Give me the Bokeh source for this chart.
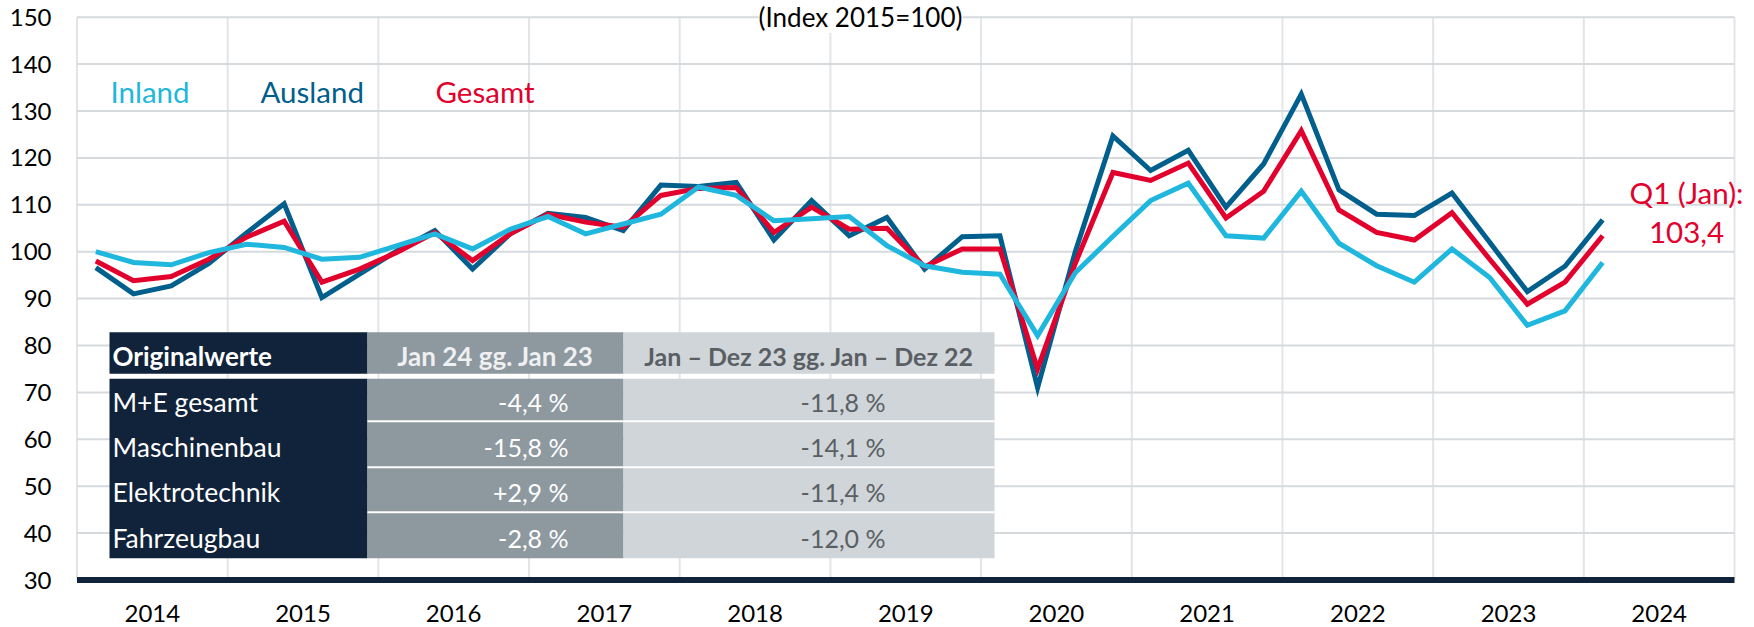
from bokeh.plotting import figure
from bokeh.models import Range1d, Label, ColumnDataSource
from bokeh.embed import file_html
from bokeh.resources import INLINE
from bokeh.core.properties import value

# ---------------- data ----------------
years = ["2014", "2015", "2016", "2017", "2018", "2019", "2020", "2021", "2022", "2023", "2024"]
quarters = [f"{y} Q{q}" for y in years[:-1] for q in range(1, 5)] + ["2024 Q1"]

inland = [100.0, 97.7, 97.2, 99.8, 101.6, 100.9, 98.4, 98.8, 101.3, 103.8,
          100.6, 104.8, 107.5, 103.8, 105.9, 108.0, 113.8, 112.0, 106.6, 107.0,
          107.5, 101.3, 97.0, 95.6, 95.2, 82.1, 95.5, 103.3, 110.9, 114.6,
          103.4, 102.9, 112.9, 101.8, 97.0, 93.5, 100.6, 94.5, 84.3, 87.4, 97.7]
ausland = [96.6, 91.0, 92.7, 97.5, 104.0, 110.2, 90.2, 95.2, 100.2, 104.5,
           96.3, 103.8, 108.2, 107.3, 104.5, 114.2, 113.9, 114.8, 102.5, 110.9,
           103.4, 107.3, 96.3, 103.2, 103.4, 71.0, 100.0, 124.7, 117.3, 121.6,
           109.5, 118.7, 133.6, 113.2, 108.0, 107.7, 112.5, 102.0, 91.5, 96.9, 106.8]
gesamt = [98.0, 93.8, 94.7, 98.4, 103.1, 106.5, 93.5, 96.3, 99.9, 104.1,
          98.1, 103.8, 108.0, 106.3, 105.2, 112.0, 113.5, 113.7, 104.1, 109.5,
          104.8, 105.0, 96.8, 100.6, 100.6, 75.0, 97.5, 116.9, 115.2, 118.9,
          107.2, 112.9, 125.8, 108.9, 104.1, 102.5, 108.3, 98.4, 88.8, 93.5, 103.4]

series_names = ["Inland", "Ausland", "Gesamt"]
y_ticks = list(range(30, 151, 10))

table_header = ["Originalwerte", "Jan 24 gg. Jan 23", "Jan – Dez 23 gg. Jan – Dez 22"]
table_rows = ["M+E gesamt", "Maschinenbau", "Elektrotechnik", "Fahrzeugbau"]
table_jan = ["-4,4 %", "-15,8 %", "+2,9 %", "-2,8 %"]
table_year = ["-11,8 %", "-14,1 %", "-11,4 %", "-12,0 %"]

last_label = ["Q1 (Jan):", "103,4"]
title_text = "(Index 2015=100)"

# ---------------- styling / layout ----------------
C_IN = "#1FB7DE"
C_AUS = "#005F8C"
C_GES = "#E2002D"
NAVY = "#10233A"
MIDGRAY = "#8D989F"
LIGHTGRAY = "#D0D5D9"
GRID_H = "#D6DADD"
GRID_V = "#E2E5E8"
FONT = "Lato"

W, H = 1754, 627
PLOT_L, PLOT_R = 76.5, 1734     # pixel x of the plotting box edges
PLOT_T, PLOT_B = 16.7, 579.5    # pixel y of value 150 and value 30
NQ = 4 * len(years)             # quarter slots
Y0, Y1 = 30, 150
XS = (PLOT_R - PLOT_L) / NQ
YS = (PLOT_B - PLOT_T) / (Y1 - Y0)


def dx(px):  # pixel x -> data x
    return (px - PLOT_L) / XS


def dy(py):  # pixel y -> data y
    return Y1 - (py - PLOT_T) / YS


p = figure(width=W, height=H, output_backend="svg", toolbar_location=None,
           x_range=Range1d(dx(0), dx(W)), y_range=Range1d(dy(H), dy(0)),
           min_border_left=0, min_border_right=0, min_border_top=0, min_border_bottom=0)
p.outline_line_color = None
p.background_fill_color = "white"
p.border_fill_color = "white"
p.xgrid.visible = False
p.ygrid.visible = False
p.xaxis.visible = False
p.yaxis.visible = False

# grid lines limited to the plotting box
vx = list(range(0, NQ + 1, 4))
p.segment(x0=vx, x1=vx, y0=[Y0] * len(vx), y1=[Y1] * len(vx),
          line_color=GRID_V, line_width=2)
hy = y_ticks[1:]
p.segment(x0=[0] * len(hy), x1=[NQ] * len(hy), y0=hy, y1=hy,
          line_color=GRID_H, line_width=2)

# y tick labels
for t in y_ticks:
    p.add_layout(Label(x=dx(51), y=t, text=str(t), text_font=FONT,
                       text_font_size="24px", text_color="#000000",
                       text_align="right", text_baseline="middle"))

# year labels
for i, yr in enumerate(years):
    p.add_layout(Label(x=4 * i + 2, y=dy(613), text=yr, text_font=FONT,
                       text_font_size="24px", text_color="#000000",
                       text_align="center", text_baseline="middle"))

# ---------------- table ----------------
tx = [109, 367, 623, 994]
head_top, head_bot = 331.7, 373.3
row_edges = [378.3, 420.7, 466.7, 511.7, 557.7]
row_centers = [401.5, 446, 491.5, 537]

quad_src = ColumnDataSource(dict(
    left=[dx(tx[0]), dx(tx[1]), dx(tx[2]), dx(tx[0]), dx(tx[1]), dx(tx[2])],
    right=[dx(tx[1]), dx(tx[2]), dx(tx[3]), dx(tx[1]), dx(tx[2]), dx(tx[3])],
    top=[dy(head_top)] * 3 + [dy(row_edges[0])] * 3,
    bottom=[dy(head_bot)] * 3 + [dy(row_edges[-1])] * 3,
    color=[NAVY, MIDGRAY, LIGHTGRAY, NAVY, MIDGRAY, LIGHTGRAY]))
p.quad(left="left", right="right", top="top", bottom="bottom", source=quad_src,
       fill_color="color", line_color=None)

sep_y = [dy(v) for v in row_edges[1:-1]]
p.segment(x0=[dx(tx[1])] * 3, x1=[dx(tx[3])] * 3, y0=sep_y, y1=sep_y,
          line_color="white", line_width=2)

head_y = dy(355)
p.text(x=[dx(112)], y=[head_y], text=[table_header[0]], text_font=value(FONT),
       text_font_style="bold", text_font_size="26px", text_color="white",
       text_align="left", text_baseline="middle")
p.text(x=[dx((tx[1] + tx[2]) / 2)], y=[head_y], text=[table_header[1]], text_font=value(FONT),
       text_font_style="bold", text_font_size="26px", text_color="#EEF0F1",
       text_align="center", text_baseline="middle")
p.text(x=[dx((tx[2] + tx[3]) / 2)], y=[head_y], text=[table_header[2]], text_font=value(FONT),
       text_font_style="bold", text_font_size="25px", text_color="#5A5F63",
       text_align="center", text_baseline="middle")

ry = [dy(v) for v in row_centers]
p.text(x=[dx(112)] * 4, y=ry, text=table_rows, text_font=value(FONT),
       text_font_size="26.5px", text_color="white", text_align="left", text_baseline="middle")
p.text(x=[dx(568)] * 4, y=ry, text=table_jan, text_font=value(FONT),
       text_font_size="25px", text_color="white", text_align="right", text_baseline="middle")
p.text(x=[dx(885)] * 4, y=ry, text=table_year, text_font=value(FONT),
       text_font_size="25px", text_color="#5A5F63", text_align="right", text_baseline="middle")

# navy baseline at 30
p.segment(x0=[0], x1=[NQ], y0=[Y0], y1=[Y0], line_color=NAVY, line_width=6)

# ---------------- series ----------------
xs = [i + 0.5 for i in range(len(quarters))]
p.line(xs, ausland, line_color=C_AUS, line_width=5, line_join="miter")
p.line(xs, gesamt, line_color=C_GES, line_width=5, line_join="miter")
p.line(xs, inland, line_color=C_IN, line_width=5, line_join="miter")

# legend texts
for name, col, px in zip(series_names, [C_IN, C_AUS, C_GES], [110, 260, 435]):
    p.add_layout(Label(x=dx(px), y=dy(90.5), text=name, text_font=FONT,
                       text_font_size="29.5px", text_color=col,
                       text_align="left", text_baseline="alphabetic"))

# title
p.add_layout(Label(x=dx(860), y=dy(16.5), text=title_text, text_font=FONT,
                   text_font_size="26px", text_color="#000000",
                   text_align="center", text_baseline="middle",
                   background_fill_color="white", background_fill_alpha=1.0))

# last value annotation
p.add_layout(Label(x=dx(1686), y=dy(192), text=last_label[0], text_font=FONT,
                   text_font_size="29.5px", text_color=C_GES,
                   text_align="center", text_baseline="alphabetic"))
p.add_layout(Label(x=dx(1686), y=dy(232), text=last_label[1], text_font=FONT,
                   text_font_size="29.5px", text_color=C_GES,
                   text_align="center", text_baseline="alphabetic"))

open("out.html", "w").write(file_html(p, INLINE))
